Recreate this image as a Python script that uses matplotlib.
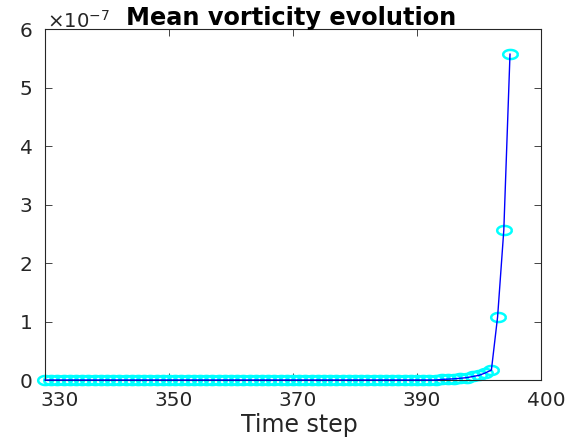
import numpy as np
import matplotlib
matplotlib.use("Agg")
import matplotlib.pyplot as plt
from matplotlib.path import Path
from matplotlib.ticker import FuncFormatter
from matplotlib.transforms import ScaledTranslation

# ---- data ----
steps = list(range(330, 406))  # 76 time steps
tail = [0.01, 0.015, 0.02, 0.03, 0.04, 0.06, 0.08, 0.12, 0.17, 1.08, 2.56, 5.57]  # x1e-7
vort = [0.0] * (len(steps) - len(tail)) + tail
vorticity = np.array(vort) * 1e-7
xtick_labels = ["330", "350", "370", "390", "400"]
ytick_values = [0, 1, 2, 3, 4, 5, 6]
title = "Mean vorticity evolution"
xlabel = "Time step"

plt.rcParams["font.family"] = ["DejaVu Sans"]
txt = "#262626"

fig = plt.figure(figsize=(5.70, 4.42), dpi=100)
ax = fig.add_axes([45/570, 1-380/442, (541-45)/570, (380-29)/442])

# elliptical marker (the reference is horizontally stretched)
t = np.linspace(0, 2*np.pi, 60)
ell = Path(np.column_stack([1.6*np.cos(t), np.sin(t)]))

ax.plot(steps, vorticity, linestyle="none", marker=ell, markersize=10.5,
        markerfacecolor="none", markeredgecolor="#00FFFF", markeredgewidth=1.8,
        clip_on=False, zorder=2)
ax.plot(steps, vorticity, color="#0000FF", linewidth=1.0, clip_on=False, zorder=3)

ax.set_xlim(330, 410)
ax.set_ylim(0, 6e-7)
xticks = np.linspace(330, 410, 5)
ax.set_xticks(xticks)
ax.set_yticks([v*1e-7 for v in ytick_values])
ax.yaxis.set_major_formatter(FuncFormatter(lambda v, p: f"{v/1e-7:.0f}"))

for s in ax.spines.values():
    s.set_color(txt)
    s.set_linewidth(0.8)
ax.tick_params(direction="in", length=5, width=0.6, colors=txt, labelsize=14.5,
               top=True, right=True)
ax.tick_params(axis="y", pad=9)
ax.tick_params(axis="x", labelbottom=False)

# x tick labels, drawn slightly right of the ticks as in the reference
xtr = ax.get_xaxis_transform()
for i, (xv, lab) in enumerate(zip(xticks, xtick_labels)):
    dx = 15 if i == 0 else 5
    tr = xtr + ScaledTranslation(dx/100, -11/100, fig.dpi_scale_trans)
    ax.text(xv, 0, lab, transform=tr, ha="center", va="top", fontsize=14.5, color=txt)

fig.text(299/570, 1-432/442, xlabel, ha="center", va="baseline", fontsize=17, color=txt)
fig.text(47/570, 1-28/442, r"$\times$10$^{-7}$", ha="left", va="baseline", fontsize=14.2, color=txt)
fig.text(291/570, 1-25/442, title, ha="center", va="baseline", fontsize=17.3, fontweight="bold", color="black")

fig.savefig("out.png", dpi=100)
